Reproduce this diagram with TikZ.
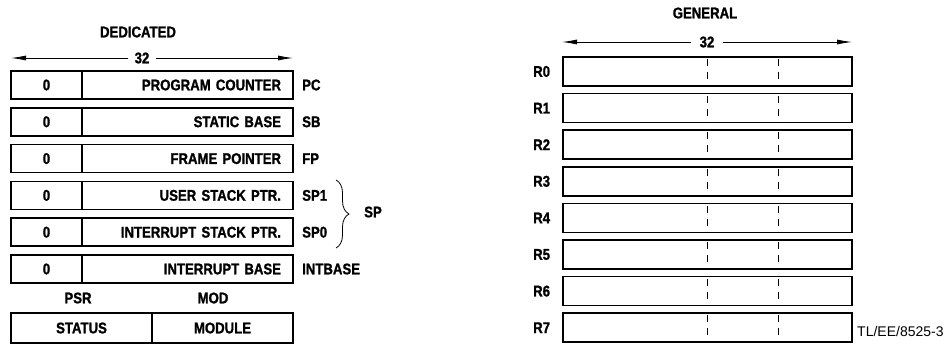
\documentclass[tikz,border=0pt]{standalone}
\usepackage{fontspec}
\setmainfont{Liberation Sans}
\newfontfamily\labfont{Liberation Sans}[FakeStretch=0.85, BoldFeatures={FakeStretch=0.85, FakeBold=1.2}]
\usetikzlibrary{decorations.pathreplacing, arrows.meta, calc}
\begin{document}
\begin{tikzpicture}[x=1pt,y=-1pt,
  bf/.style={font=\labfont\bfseries\fontsize{15.5}{16}\selectfont},
  lbl/.style={bf, inner sep=0},
  zcell/.style={bf, draw, line width=1.5pt, minimum width=71pt, minimum height=28pt, inner sep=0},
  ncell/.style={bf, draw, line width=1.5pt, text width=187pt, align=right, inner xsep=12pt, inner ysep=0, minimum height=28pt},
  hcell/.style={bf, draw, line width=1.5pt, minimum width=141pt, minimum height=30pt, inner sep=0},
  gcell/.style={draw, line width=1.5pt, minimum width=289pt, minimum height=29pt, inner sep=0},
  dim/.style={-{Latex[length=15pt,width=5pt]}, line width=0.8pt},
  sepline/.style={line width=0.6pt, dash pattern=on 7pt off 6pt, dash phase=-3pt}]
\useasboundingbox (0,0) rectangle (950,351);

% ---------- Dedicated ----------
\node[lbl] (ded) at (138,32) {DEDICATED};
\node[lbl, inner xsep=6pt] (d32) at (142,58) {32};
\coordinate (dl) at (11,58);
\coordinate (dr) at (293,58);
\draw[dim] (d32) -- (dl);
\draw[dim] (d32) -- (dr);

\foreach \i/\n/\t/\l in {0/pc/PROGRAM COUNTER/PC, 1/sb/STATIC BASE/SB, 2/fp/FRAME POINTER/FP, 3/usp/USER STACK PTR./SP1, 4/isp/INTERRUPT STACK PTR./SP0, 5/ib/INTERRUPT BASE/INTBASE}{
  \pgfmathsetmacro\yy{85+36.8*\i}
  \node[zcell] (z\n) at (46.5,\yy) {0};
  \node[ncell] (\n) at (187.5,\yy) {\t};
  \node[lbl, anchor=west] (l\n) at (302,\yy) {\l};
}

\coordinate (bt) at (336,180);
\coordinate (bb) at (336,248);
\draw[decorate, decoration={brace, amplitude=13pt}, line width=0.8pt] (bt) -- (bb);
\node[lbl, anchor=west] (sp) at (364,212) {SP};

\node[lbl] (psr) at (78,298) {PSR};
\node[lbl] (mod) at (213,298) {MOD};
\node[hcell] (status) at (81.5,328) {STATUS};
\node[hcell] (module) at (222.5,328) {MODULE};

% ---------- General ----------
\node[lbl] (gen) at (705,13) {GENERAL};
\node[lbl, inner xsep=8pt] (g32) at (707,42) {32};
\coordinate (gl) at (562,42);
\coordinate (gr) at (852,42);
\draw[dim] (g32) -- (gl);
\draw[dim] (g32) -- (gr);

\coordinate (c1) at (707,0);
\coordinate (c2) at (778,0);
\foreach \i in {0,...,7}{
  \pgfmathsetmacro\yy{71.5+36.6*\i}
  \node[gcell] (r\i) at (707.5,\yy) {};
  \node[lbl, anchor=west] (rl\i) at (533,\yy) {R\i};
  \draw[sepline] (r\i.north -| c1) -- (r\i.south -| c1);
  \draw[sepline] (r\i.north -| c2) -- (r\i.south -| c2);
}

\node[anchor=west, inner sep=0, font=\fontsize{14}{15}\selectfont] (tl) at (857,331) {TL/EE/8525-3};
\end{tikzpicture}
\end{document}
